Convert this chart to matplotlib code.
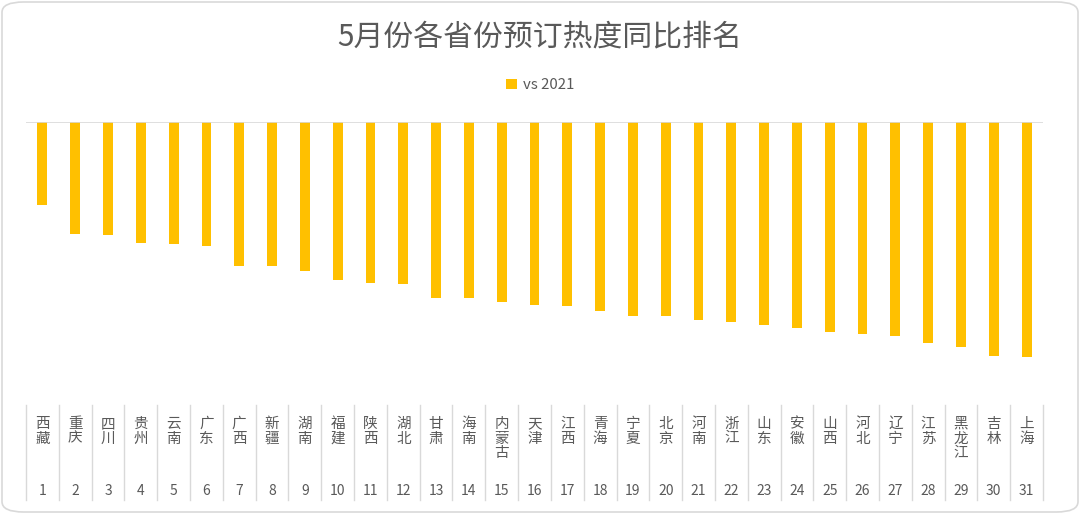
import matplotlib
matplotlib.use("Agg")
from matplotlib import pyplot as plt
from matplotlib.patches import FancyBboxPatch
from matplotlib.transforms import blended_transform_factory

plt.rcParams['font.family'] = ['Noto Sans CJK SC', 'DejaVu Sans']

provinces = ["西藏", "重庆", "四川", "贵州", "云南", "广东", "广西", "新疆", "湖南", "福建",
             "陕西", "湖北", "甘肃", "海南", "内蒙古", "天津", "江西", "青海", "宁夏", "北京",
             "河南", "浙江", "山东", "安徽", "山西", "河北", "辽宁", "江苏", "黑龙江", "吉林", "上海"]
ranks = list(range(1, 32))
# (relative scale, no axis values shown)
vs_2021 = [-83, -112, -113, -121, -122, -124, -144, -144, -149, -158,
           -161, -162, -176, -176, -180, -183, -184, -189, -194, -194,
           -198, -200, -203, -206, -210, -212, -214, -221, -225, -234, -235]

W, H = 1080, 514
fig = plt.figure(figsize=(W / 100, H / 100), dpi=100)

# rounded outer frame
frame = FancyBboxPatch((2 / W, 2 / H), 1 - 4 / W, 1 - 4 / H,
                       boxstyle="round,pad=0,rounding_size=0.02",
                       transform=fig.transFigure, fc="none", ec="#d9d9d9", lw=1.2)
fig.patches.append(frame)

left, right, top, bottom = 26, 1043, 122, 400
ax = fig.add_axes([left / W, 1 - bottom / H, (right - left) / W, (bottom - top) / H])
ax.patch.set_alpha(0)

x = list(range(len(provinces)))
ax.bar(x, vs_2021, width=0.3, color="#FFC000", label="vs 2021", zorder=2)
ax.axhline(0, color="#d9d9d9", lw=1.2, zorder=3)
ax.set_xlim(-0.5, len(provinces) - 0.5)
ax.set_ylim(-(bottom - top), 0)
ax.set_xticks([])
ax.set_yticks([])
for s in ax.spines.values():
    s.set_visible(False)

# multi-level category labels
trans = blended_transform_factory(ax.transData, fig.transFigure)
for i, (p, r) in enumerate(zip(provinces, ranks)):
    ax.text(i, 1 - 417 / H, "\n".join(p), transform=trans, ha="center", va="top",
            fontsize=10.5, color="#595959", linespacing=1.05, clip_on=False)
    ax.text(i, 1 - 491 / H, str(r), transform=trans, ha="center", va="center",
            fontsize=10, color="#595959", clip_on=False)
for i in range(len(provinces) + 1):
    ax.plot([i - 0.5, i - 0.5], [1 - 405 / H, 1 - 500 / H], transform=trans,
            color="#d9d9d9", lw=1, clip_on=False)

fig.text(0.5, 1 - 38 / H, "5月份各省份预订热度同比排名", ha="center", va="center",
         fontsize=21.5, color="#595959")

fig.legend(loc="center", bbox_to_anchor=(0.5, 1 - 85 / H), frameon=False,
           handlelength=0.7, handleheight=0.7, handletextpad=0.4,
           fontsize=10.8, labelcolor="#595959")

fig.savefig("out.png", dpi=100)
